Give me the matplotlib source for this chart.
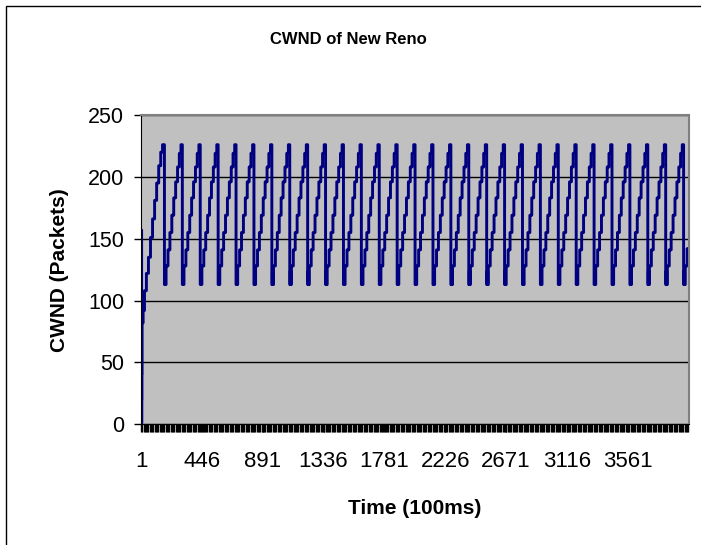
import numpy as np
import matplotlib
matplotlib.use("Agg")
import matplotlib.pyplot as plt
from matplotlib.patches import Rectangle

# cwnd trace, run-length encoded (level, number of 100ms samples)
start_levels = [0, 157, 1, 20, 41, 82, 92, 108, 122, 135, 151, 166, 181, 195, 209, 220, 226]
start_lengths = [1, 3, 1, 1, 1, 8, 10, 14, 15, 15, 15, 15, 15, 15, 15, 13, 14]

cycle_levels = [113, 124, 113, 128, 141, 155, 169, 183, 196, 208, 219, 226]
cycle_lengths = [4, 3, 5, 14, 14, 14, 14, 14, 14, 13, 12, 10]
n_cycles = 29

tail_levels = [113, 124, 113, 128, 142]
tail_lengths = [4, 3, 5, 14, 14]

xtick_labels = [1, 446, 891, 1336, 1781, 2226, 2671, 3116, 3561]
yticks = [0, 50, 100, 150, 200, 250]

cwnd = np.concatenate([
    np.repeat(start_levels, start_lengths),
    np.tile(np.repeat(cycle_levels, cycle_lengths), n_cycles),
    np.repeat(tail_levels, tail_lengths),
])
t = np.arange(1, len(cwnd) + 1)

plt.rcParams['font.family'] = ['Liberation Sans', 'DejaVu Sans']

fig = plt.figure(figsize=(7.01, 5.45), dpi=100)
fig.patch.set_facecolor('white')
fig.patches.append(Rectangle((6 / 701, -0.1), 1.2, 1 - 6 / 545 + 0.1,
                             transform=fig.transFigure, fill=False,
                             edgecolor='black', linewidth=1.0))

ax = fig.add_axes([141 / 701, 120.7 / 545, 548 / 701, 309.3 / 545])
ax.set_facecolor('#C0C0C0')

ax.plot(t, cwnd, color='#000080', linewidth=2.1, drawstyle='steps-post')

ax.set_xlim(0.5, len(cwnd) + 0.5)
ax.set_ylim(0, 250)
ax.set_yticks(yticks)
ax.set_xticks(xtick_labels)
ax.set_xticklabels([str(v) for v in xtick_labels])
ax.set_xticks(np.arange(1, len(cwnd), 9), minor=True)

ax.grid(axis='y', color='black', linewidth=1.0)
ax.set_axisbelow(True)

for s in ['top', 'right']:
    ax.spines[s].set_color('#808080')
    ax.spines[s].set_linewidth(1.5)
ax.spines['left'].set_color('black')
ax.spines['bottom'].set_color('black')

ax.tick_params(axis='y', length=5, width=1, pad=7, labelsize=15.5, direction='out')
ax.tick_params(axis='x', which='both', length=6, width=1.0, direction='out')
ax.tick_params(axis='x', which='major', pad=13, labelsize=16)

fig.text(348 / 701, 1 - 40 / 545, 'CWND of New Reno', fontsize=12,
         fontweight='bold', ha='center', va='center')
ax.set_xlabel('Time (100ms)', fontsize=15, fontweight='bold', labelpad=20)
ax.set_ylabel('CWND (Packets)', fontsize=15, fontweight='bold', labelpad=14)

fig.savefig('out.png', dpi=100)
